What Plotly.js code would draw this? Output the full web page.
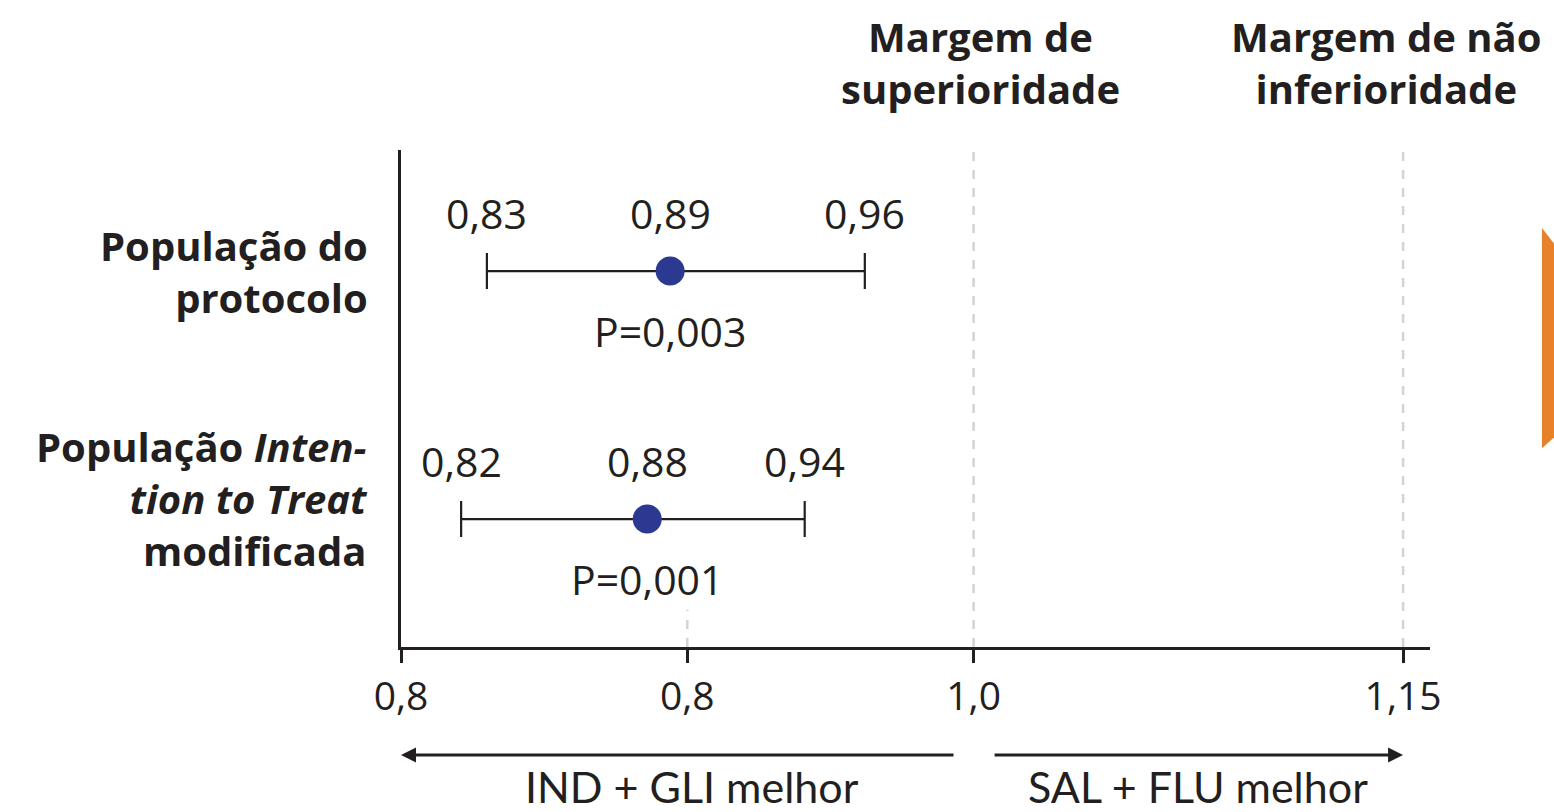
<!DOCTYPE html>
<html>
<head>
<meta charset="utf-8">
<script src="https://cdn.plot.ly/plotly-3.0.1.min.js"></script>
<style>
html,body{margin:0;padding:0;background:#fff;}
#chart{width:1554px;height:812px;}
</style>
</head>
<body>
<div id="chart"></div>
<script>
// ---- data ----
const rowLabels = [
  "<b>População do<br>protocolo</b>",
  "<b>População <i>Inten-</i><br><i>tion to Treat</i><br>modificada</b>"
];
const rowPos = [1, 0];
const estimates = [0.894, 0.886];
const lowerCI = [0.830, 0.821];
const upperCI = [0.962, 0.941];
const estLabels = ["0,89", "0,88"];
const lowerLabels = ["0,83", "0,82"];
const upperLabels = ["0,96", "0,94"];
const pValues = ["P=0,003", "P=0,001"];
const tickVals = [0.8, 0.9, 1.0, 1.15];
const tickText = ["0,8", "0,8", "1,0", "1,15"];
const marginVals = [1.0, 1.15];
const marginTitles = ["<b>Margem de<br>superioridade</b>", "<b>Margem de não<br>inferioridade</b>"];
const directionLabels = ["IND + GLI melhor", "SAL + FLU melhor"];

// ---- styling ----
const dark = "#231f20";
const FONT = "'Open Sans', Lato, sans-serif";
const NARROW = "Lato, 'Open Sans', sans-serif";

const trace = {
  type: "scatter",
  mode: "markers",
  x: estimates,
  y: rowPos,
  marker: {color: "#2b3990", size: 29, line: {width: 0}},
  error_x: {
    type: "data",
    symmetric: false,
    array: upperCI.map((u, i) => u - estimates[i]),
    arrayminus: lowerCI.map((l, i) => estimates[i] - l),
    color: dark,
    thickness: 2.2,
    width: 18
  },
  hoverinfo: "skip",
  showlegend: false,
  cliponaxis: false
};

const annotations = [];
const numFont = {family: FONT, size: 41, color: dark};
rowPos.forEach((r, i) => {
  [[lowerCI[i], lowerLabels[i]], [estimates[i], estLabels[i]], [upperCI[i], upperLabels[i]]].forEach(([xv, t]) => {
    annotations.push({x: xv, y: r, xref: "x", yref: "y", text: t, showarrow: false,
      xanchor: "center", yanchor: "middle", yshift: 58, font: numFont});
  });
  annotations.push({x: estimates[i], y: r, xref: "x", yref: "y", text: pValues[i], showarrow: false,
    xanchor: "center", yanchor: "middle", yshift: -60, font: numFont});
});
// row labels
const labFont = {family: FONT, size: 40, color: dark};
annotations.push({x: -0.0301, y: rowPos[0], xref: "paper", yref: "y", text: rowLabels[0], showarrow: false,
  xanchor: "right", yanchor: "middle", align: "right", font: labFont});
annotations.push({x: -0.0301, y: rowPos[1], xref: "paper", yref: "y", text: rowLabels[1], showarrow: false,
  xanchor: "right", yanchor: "middle", align: "right", yshift: 21, font: labFont});
// margin titles
annotations.push({x: marginVals[0], y: 1.177, xref: "x", yref: "paper", text: marginTitles[0], showarrow: false,
  xanchor: "center", yanchor: "middle", xshift: 7, font: labFont});
annotations.push({x: marginVals[1], y: 1.177, xref: "x", yref: "paper", text: marginTitles[1], showarrow: false,
  xanchor: "center", yanchor: "middle", xshift: -17, font: labFont});
// direction arrows
annotations.push({x: 0.8, y: -0.2173, xref: "x", yref: "paper", text: "", showarrow: true,
  ax: 554, ay: 0, arrowhead: 2, arrowsize: 1, arrowwidth: 3, arrowcolor: dark, standoff: 0, startstandoff: 0});
annotations.push({x: 1.15, y: -0.2173, xref: "x", yref: "paper", text: "", showarrow: true,
  ax: -410, ay: 0, arrowhead: 2, arrowsize: 1, arrowwidth: 3, arrowcolor: dark, standoff: 0, startstandoff: 0});
const dirFont = {family: NARROW, size: 43, color: dark};
annotations.push({x: 0.9, y: -0.2815, xref: "x", yref: "paper", text: directionLabels[0], showarrow: false,
  xanchor: "center", yanchor: "middle", xshift: 5, font: dirFont});
annotations.push({x: 1.075, y: -0.2815, xref: "x", yref: "paper", text: directionLabels[1], showarrow: false,
  xanchor: "center", yanchor: "middle", xshift: 10, font: dirFont});

const dashLine = {color: "#d4d4d4", width: 2.5, dash: "dash"};
const shapes = marginVals.map(v => ({type: "line", xref: "x", yref: "paper", x0: v, x1: v, y0: 0, y1: 1,
  line: dashLine, layer: "below"}));
shapes.push({type: "line", xref: "x", yref: "paper", x0: tickVals[1], x1: tickVals[1], y0: 0, y1: 0.075,
  line: dashLine, layer: "below"});
// orange tab at right edge
shapes.push({type: "path", xref: "paper", yref: "paper",
  path: "M 1.1088 0.843 L 1.125 0.80 L 1.125 0.43 L 1.1088 0.40 Z",
  fillcolor: "#e8822a", line: {width: 0}});

const layout = {
  width: 1554, height: 812,
  margin: {l: 401, r: 124, t: 150, b: 165},
  paper_bgcolor: "#ffffff", plot_bgcolor: "#ffffff",
  font: {family: FONT, color: dark},
  xaxis: {
    range: [0.8, 1.1594], showgrid: false, zeroline: false,
    showline: true, linecolor: dark, linewidth: 3,
    ticks: "outside", ticklen: 13, tickwidth: 3, tickcolor: dark,
    tickvals: tickVals, ticktext: tickText,
    tickfont: {family: FONT, size: 39, color: dark}
  },
  yaxis: {
    range: [-0.516, 1.488], showgrid: false, zeroline: false,
    showline: true, linecolor: dark, linewidth: 3,
    showticklabels: false, ticks: ""
  },
  shapes: shapes,
  annotations: annotations
};

Plotly.newPlot("chart", [trace], layout, {displayModeBar: false, staticPlot: true});
</script>
</body>
</html>
